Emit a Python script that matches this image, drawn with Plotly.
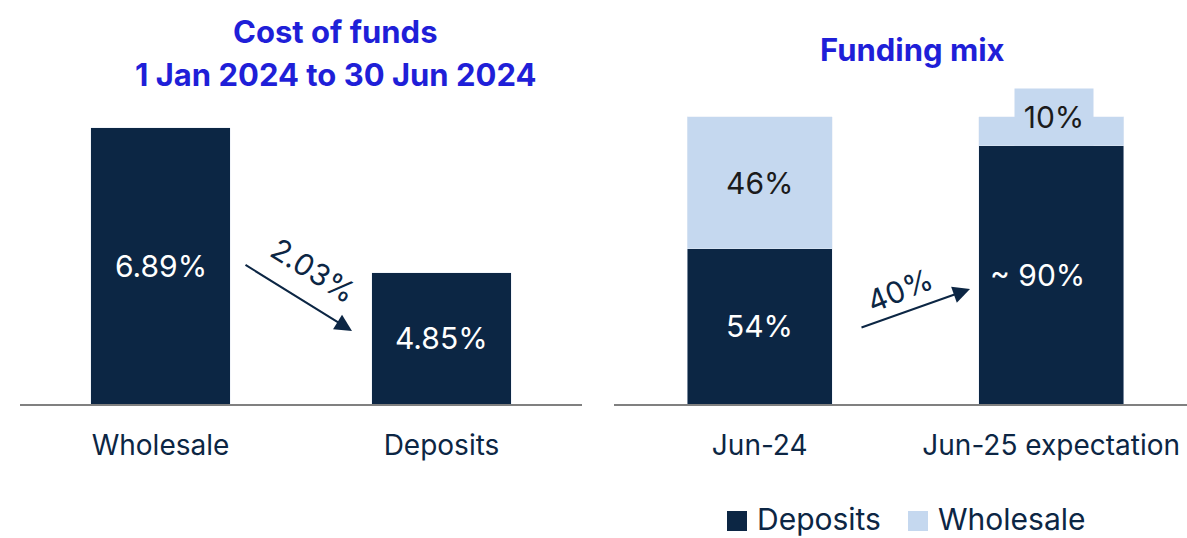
import plotly.graph_objects as go

# ---- data ----
cost_categories = ["Wholesale", "Deposits"]
cost_values = [6.89, 4.85]
cost_change_label = "2.03%"

mix_categories = ["Jun-24", "Jun-25 expectation"]
mix_deposits = [54, 90]
mix_wholesale = [46, 10]
mix_deposit_labels = ["54%", "~ 90%"]
mix_wholesale_labels = ["46%", "10%"]
mix_change_label = "40%"
series_names = ["Deposits", "Wholesale"]

NAVY = "#0c2644"
LIGHT = "#c5d8ef"
TITLE = "#1f1fd8"
FONT = "Inter"
W, H = 1187, 538


def px(x):
    return x / W


def py(y):
    return (H - y) / H


fig = go.Figure()

fig.add_trace(go.Bar(
    x=cost_categories, y=cost_values, marker_color=NAVY, width=0.495,
    showlegend=False, xaxis="x", yaxis="y", hoverinfo="skip"))

fig.add_trace(go.Bar(
    x=mix_categories, y=mix_deposits, name=series_names[0], marker_color=NAVY,
    width=0.497, xaxis="x2", yaxis="y2", showlegend=False))
fig.add_trace(go.Bar(
    x=mix_categories, y=mix_wholesale, name=series_names[1], marker_color=LIGHT,
    width=0.497, xaxis="x2", yaxis="y2", showlegend=False))

C = dict(xanchor="center", yanchor="middle", showarrow=False)
annotations = []
# value labels on the left bars
for c, v in zip(cost_categories, cost_values):
    annotations.append(dict(x=c, y=(3.007 + v) / 2, xref="x", yref="y",
                            text=f"{v:.2f}%", **C,
                            font=dict(family=FONT, size=30, color="white")))
# right stacked labels
for i, c in enumerate(mix_categories):
    d = mix_deposits[i]
    w = mix_wholesale[i]
    annotations.append(dict(x=c, y=d / 2, xref="x2", yref="y2",
                            text=mix_deposit_labels[i], **C,
                            xshift=-14 if i == 1 else 0,
                            font=dict(family=FONT, size=30, color="white")))
    if i == 0:
        annotations.append(dict(x=c, y=d + w / 2, xref="x2", yref="y2",
                                text=mix_wholesale_labels[i], **C,
                                font=dict(family=FONT, size=30, color="#1b1b1b")))
    else:
        annotations.append(dict(x=c, y=d + w, xref="x2", yref="y2",
                                text=mix_wholesale_labels[i], **C,
                                xshift=3, bgcolor=LIGHT, width=76, height=54,
                                font=dict(family=FONT, size=30, color="#1b1b1b")))

# arrows
annotations.append(dict(x=px(352), y=py(331), xref="paper", yref="paper",
                        ax=-108, ay=-67, showarrow=True, arrowhead=2, arrowsize=1.7,
                        arrowwidth=2, arrowcolor=NAVY, text=""))
annotations.append(dict(x=px(313), y=py(270), xref="paper", yref="paper",
                        text=cost_change_label, textangle=32, xanchor="center",
                        yanchor="middle", showarrow=False,
                        font=dict(family=FONT, size=30, color=NAVY)))
annotations.append(dict(x=px(970), y=py(289), xref="paper", yref="paper",
                        ax=-110, ay=39, showarrow=True, arrowhead=2, arrowsize=1.7,
                        arrowwidth=2, arrowcolor=NAVY, text=""))
annotations.append(dict(x=px(900), y=py(290), xref="paper", yref="paper",
                        text=mix_change_label, textangle=-22, xanchor="center",
                        yanchor="middle", showarrow=False,
                        font=dict(family=FONT, size=30, color=NAVY)))

# titles
for txt, x, y in [("<b>Cost of funds</b>", 335, 32),
                  ("<b>1 Jan 2024 to 30 Jun 2024</b>", 335, 75),
                  ("<b>Funding mix</b>", 912, 50)]:
    annotations.append(dict(x=px(x), y=py(y), xref="paper", yref="paper",
                            text=txt, **C,
                            font=dict(family=FONT, size=31, color=TITLE)))

# legend (drawn manually for large square swatches)
shapes = []
for name, col, sx, tx in [(series_names[0], NAVY, 727, 755),
                          (series_names[1], LIGHT, 908, 936)]:
    shapes.append(dict(type="rect", xref="paper", yref="paper",
                       x0=px(sx), x1=px(sx + 20), y0=py(531), y1=py(511),
                       fillcolor=col, line=dict(width=0)))
    annotations.append(dict(x=px(tx), y=py(519), xref="paper", yref="paper",
                            text=name, xanchor="left", yanchor="middle",
                            showarrow=False, height=36, valign="middle",
                            font=dict(family=FONT, size=30, color=NAVY)))

ydom = [py(404), py(100)]
axis_common = dict(showline=True, linecolor="#808080", linewidth=2, showgrid=False,
                   zeroline=False, ticks="", ticklabelstandoff=15,
                   tickfont=dict(family=FONT, size=28, color=NAVY), fixedrange=True)

fig.update_layout(
    width=W, height=H,
    margin=dict(l=0, r=0, t=0, b=0),
    paper_bgcolor="white", plot_bgcolor="white",
    barmode="stack",
    xaxis=dict(domain=[px(20), px(582)], range=[-0.5, 1.5], anchor="y", **axis_common),
    yaxis=dict(domain=ydom, range=[3.007, 7.277], visible=False, anchor="x"),
    xaxis2=dict(domain=[px(614), 1.0], range=[-0.5, 1.466], anchor="y2", **axis_common),
    yaxis2=dict(domain=ydom, range=[0, 105.9], visible=False, anchor="x2"),
    annotations=annotations,
    shapes=shapes,
    showlegend=False,
)

fig.write_html("out.html", config={"displayModeBar": False},
               post_script="document.body.style.margin='0';document.body.style.overflow='hidden';")
